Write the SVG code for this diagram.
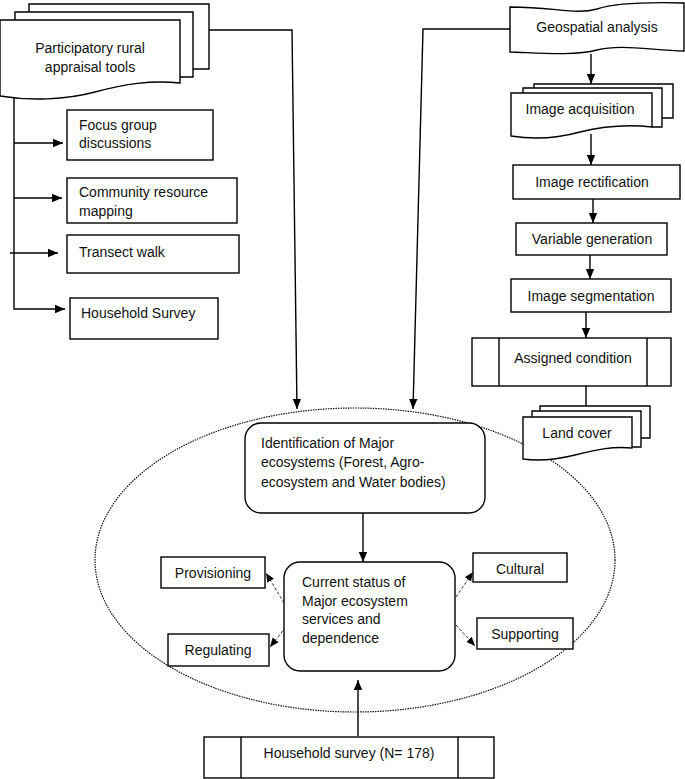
<svg xmlns="http://www.w3.org/2000/svg" width="685" height="779" viewBox="0 0 685 779">
<style>
.b{fill:#fff;stroke:#000;stroke-width:1.4}
.o{fill:none;stroke:#000;stroke-width:1.4}
.t{font-family:"Liberation Sans",Arial,sans-serif;font-size:14px;fill:#111}
.m{text-anchor:middle}
.c{fill:none;stroke:#000;stroke-width:1.4}
.d{fill:none;stroke:#333;stroke-width:1;stroke-dasharray:3,2}
</style>
<defs>
<marker id="a" markerUnits="userSpaceOnUse" markerWidth="10" markerHeight="10" viewBox="0 0 10 10" refX="10" refY="5" orient="auto"><path d="M0,0.8 L10,5 L0,9.2 Z" fill="#000"/></marker>
<marker id="s" markerUnits="userSpaceOnUse" markerWidth="9" markerHeight="9" viewBox="0 0 10 10" refX="10" refY="5" orient="auto"><path d="M0,0.8 L10,5 L0,9.2 Z" fill="#000"/></marker>
</defs>

<ellipse cx="355" cy="560" rx="260" ry="152" fill="none" stroke="#111" stroke-width="1.2" stroke-dasharray="1.5,1"/>

<g id="connectors">
<path class="c" d="M209,30 H292 L297,409" marker-end="url(#a)"/>
<path class="c" d="M510,29 H423 L413,409" marker-end="url(#a)"/>
<path class="c" d="M14,98 V309 H65" marker-end="url(#a)"/>
<path class="c" d="M14,143 H63" marker-end="url(#a)"/>
<path class="c" d="M14,198 H62" marker-end="url(#a)"/>
<path class="c" d="M10,253 H58" marker-end="url(#a)"/>
<path class="c" d="M591,54 V84" marker-end="url(#a)"/>
<path class="c" d="M591,134 V165" marker-end="url(#a)"/>
<path class="c" d="M593,199 V223" marker-end="url(#a)"/>
<path class="c" d="M590,255 V279" marker-end="url(#a)"/>
<path class="c" d="M586,312 V338" marker-end="url(#a)"/>
<path class="c" d="M586,386 V416" marker-end="url(#a)"/>
<path class="c" d="M363,513 V562" marker-end="url(#a)"/>
<path class="c" d="M358,736 V680" marker-end="url(#a)"/>
<path class="d" d="M284,603 L266,573" marker-end="url(#s)"/>
<path class="d" d="M286,627 L270,647" marker-end="url(#s)"/>
<path class="d" d="M456,597 L473,572" marker-end="url(#s)"/>
<path class="d" d="M456,625 L475,646" marker-end="url(#s)"/>
</g>

<g id="pra">
<path class="b" d="M29,12 V4 H209 V69 H193"/>
<path class="b" d="M15,20 V12 H193 V77 H180"/>
<path class="b" d="M0,20 H180 V83 C150,80 125,84 95,92 C65,100 30,101 0,96 Z"/>
<text class="t m" x="90" y="53">Participatory rural</text>
<text class="t m" x="90" y="72">appraisal tools</text>
</g>

<g id="focus">
<rect class="b" x="67" y="110" width="146" height="50"/>
<text class="t" x="79" y="130">Focus group</text>
<text class="t" x="79" y="148">discussions</text>
</g>
<g id="community">
<rect class="b" x="67" y="178" width="170" height="45"/>
<text class="t" x="79" y="197">Community resource</text>
<text class="t" x="79" y="216">mapping</text>
</g>
<g id="transect">
<rect class="b" x="67" y="235" width="172" height="38"/>
<text class="t" x="79" y="257">Transect walk</text>
</g>
<g id="hhsurvey">
<rect class="b" x="70" y="298" width="148" height="41"/>
<text class="t" x="81" y="318">Household Survey</text>
</g>

<g id="geo">
<path class="b" d="M510,7 C555,7 575,15 597,9 C615,3 650,2 684,3 V51 C650,50 620,44 597,50 C575,56 540,53 510,52 Z"/>
<text class="t m" x="597" y="32">Geospatial analysis</text>
</g>

<g id="acq">
<path class="b" d="M534,88 V84 H673 V118 H662"/>
<path class="b" d="M523,93 V88 H662 V127 H652"/>
<path class="b" d="M511,93 H652 V127 C625,124 600,127 580,132 C555,139 530,139 511,136 Z"/>
<text class="t m" x="580" y="114">Image acquisition</text>
</g>
<g id="rect">
<rect class="b" x="513" y="165" width="167" height="34"/>
<text class="t m" x="592" y="187">Image rectification</text>
</g>
<g id="var">
<rect class="b" x="516" y="223" width="151" height="32"/>
<text class="t m" x="592" y="244">Variable generation</text>
</g>
<g id="seg">
<rect class="b" x="511" y="279" width="160" height="33"/>
<text class="t m" x="591" y="301">Image segmentation</text>
</g>
<g id="assigned">
<rect class="b" x="472" y="338" width="199" height="48"/>
<path class="o" d="M499,338 V386 M647,338 V386"/>
<text class="t m" x="573" y="363">Assigned condition</text>
</g>
<g id="landcover">
<path class="b" d="M540,411 V406 H650 V438 H641"/>
<path class="b" d="M532,417 V411 H641 V447 H632"/>
<path class="b" d="M523,417 H632 V448 C612,446 595,450 575,455 C555,460 538,461 523,459 Z"/>
<text class="t m" x="577" y="438">Land cover</text>
</g>

<g id="ident">
<rect class="b" x="245" y="423" width="240" height="90" rx="16"/>
<text class="t" x="261" y="448">Identification of Major</text>
<text class="t" x="261" y="467">ecosystems (Forest, Agro-</text>
<text class="t" x="261" y="487">ecosystem and Water bodies)</text>
</g>
<g id="status">
<rect class="b" x="284" y="562" width="171" height="109" rx="16"/>
<text class="t" x="302" y="587">Current status of</text>
<text class="t" x="302" y="606">Major ecosystem</text>
<text class="t" x="302" y="624">services and</text>
<text class="t" x="302" y="643">dependence</text>
</g>
<g id="prov">
<rect class="b" x="161" y="557" width="104" height="31"/>
<text class="t m" x="213" y="578">Provisioning</text>
</g>
<g id="reg">
<rect class="b" x="168" y="634" width="101" height="32"/>
<text class="t m" x="218" y="655">Regulating</text>
</g>
<g id="cult">
<rect class="b" x="473" y="553" width="94" height="29"/>
<text class="t m" x="520" y="574">Cultural</text>
</g>
<g id="supp">
<rect class="b" x="477" y="618" width="96" height="31"/>
<text class="t m" x="525" y="639">Supporting</text>
</g>
<g id="hh178">
<rect class="b" x="204" y="737" width="290" height="41"/>
<path class="o" d="M241,737 V778 M458,737 V778"/>
<text class="t m" x="349" y="758">Household survey (N= 178)</text>
</g>
</svg>
